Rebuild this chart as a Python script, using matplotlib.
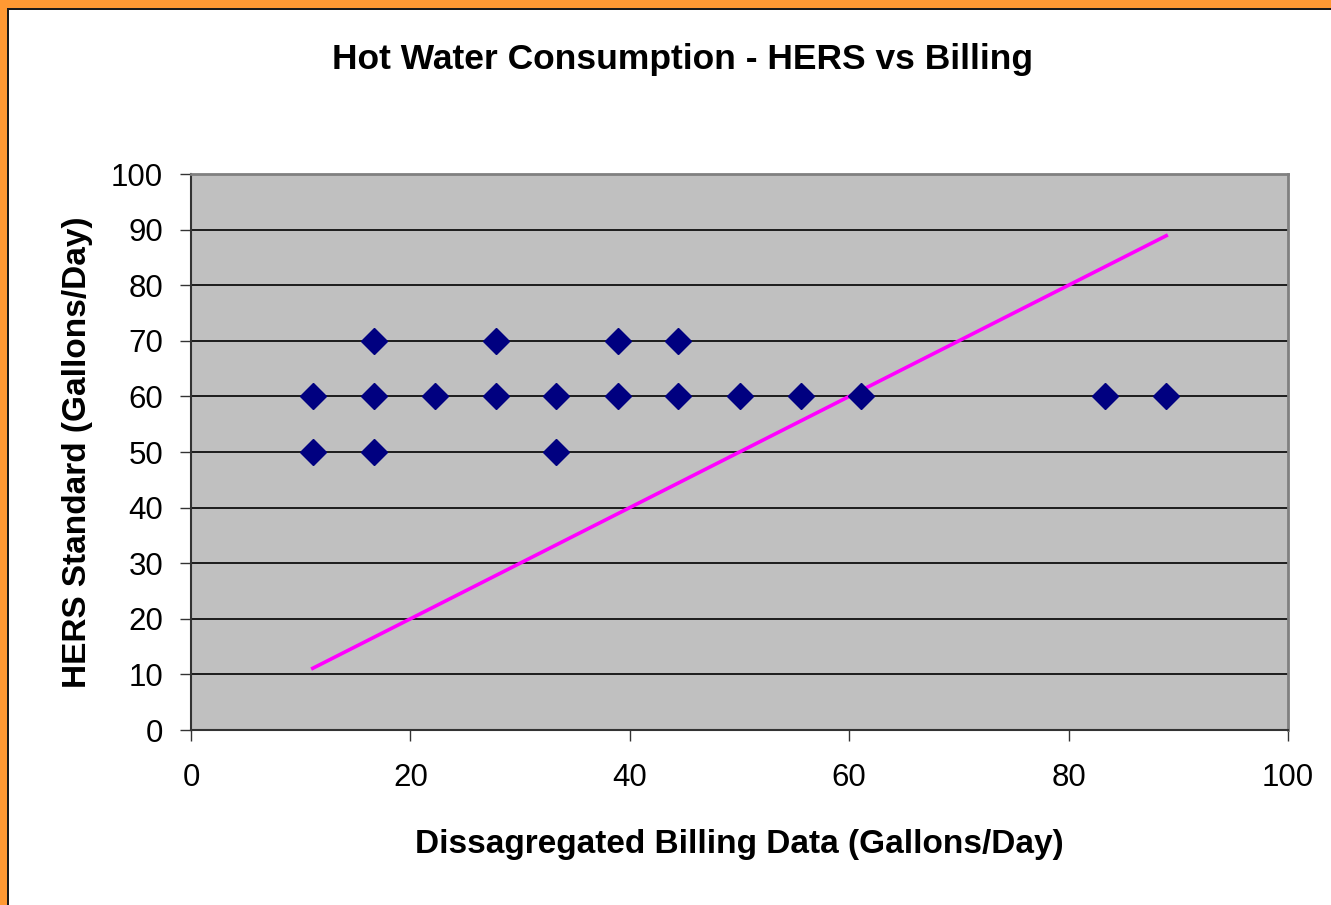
import matplotlib.pyplot as plt
from matplotlib.patches import Rectangle

plt.rcParams['font.family'] = ['Liberation Sans', 'DejaVu Sans']

# billing data (gallons/day) vs HERS standard
billing = [11.1, 11.1, 16.7, 16.7, 16.7, 22.2, 27.8, 27.8, 33.3, 33.3,
           38.9, 38.9, 44.4, 44.4, 50.0, 55.6, 61.1, 83.3, 88.9]
hers = [60, 50, 70, 60, 50, 60, 70, 60, 60, 50,
        70, 60, 70, 60, 60, 60, 60, 60, 60]

# 1:1 reference line
line_x = [11.1, 88.9]
line_y = [11.1, 88.9]

W, H = 1331, 905
fig = plt.figure(figsize=(W / 100, H / 100), dpi=100)
fig.patch.set_facecolor('white')

# orange frame on top and left, with a thin dark line inside it
orange = '#FF9933'
fig.patches.append(Rectangle((0, 0), 7 / W, 1, transform=fig.transFigure,
                             facecolor=orange, edgecolor='none', zorder=0))
fig.patches.append(Rectangle((0, 1 - 8 / H), 1, 8 / H, transform=fig.transFigure,
                             facecolor=orange, edgecolor='none', zorder=0))
fig.patches.append(Rectangle((7 / W, 0), 2 / W, 1 - 8 / H, transform=fig.transFigure,
                             facecolor='#1a1a1a', edgecolor='none', zorder=0))
fig.patches.append(Rectangle((7 / W, 1 - 10 / H), 1, 2 / H, transform=fig.transFigure,
                             facecolor='#1a1a1a', edgecolor='none', zorder=0))

ax = fig.add_axes([191 / W, 1 - 730 / H, (1288 - 191) / W, (730 - 174) / H])
ax.set_facecolor('#C0C0C0')

ax.plot(line_x, line_y, color='#FF00FF', lw=2.6, zorder=3)
ax.plot(billing, hers, linestyle='none', marker='D', markersize=13.5,
        color='#000080', zorder=4, clip_on=False)

ax.set_xlim(0, 100)
ax.set_ylim(0, 100)
ax.set_xticks(range(0, 101, 20))
ax.set_yticks(range(0, 101, 10))
ax.yaxis.grid(True, color='black', lw=1.2)
ax.set_axisbelow(True)

for s in ['top', 'right']:
    ax.spines[s].set_color('#808080')
    ax.spines[s].set_linewidth(2)
for s in ['left', 'bottom']:
    ax.spines[s].set_color('#333333')
    ax.spines[s].set_linewidth(1.5)

ax.tick_params(axis='both', direction='out', length=8, width=1, color='#333333',
               labelsize=22.5)
ax.tick_params(axis='x', pad=16)
ax.tick_params(axis='y', pad=12)

ax.set_xlabel('Dissagregated Billing Data (Gallons/Day)', fontsize=24,
              fontweight='bold', labelpad=26)
ax.set_ylabel('HERS Standard (Gallons/Day)', fontsize=24,
              fontweight='bold', labelpad=13)
fig.text(682 / W, 1 - 59 / H, 'Hot Water Consumption - HERS vs Billing',
         ha='center', va='center', fontsize=25.5, fontweight='bold')

fig.savefig('out.png', dpi=100)
